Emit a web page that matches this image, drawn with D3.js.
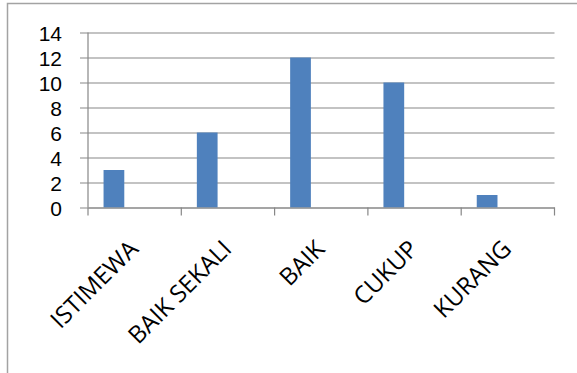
<!DOCTYPE html>
<html>
<head>
<meta charset="utf-8">
<script src="https://cdn.jsdelivr.net/npm/d3@7"></script>
<style>
html,body{margin:0;padding:0;background:#fff;overflow:hidden;}
svg{display:block;}
</style>
</head>
<body>
<svg id="chart" width="577" height="373"></svg>
<script>
const categories = ["ISTIMEWA", "BAIK SEKALI", "BAIK", "CUKUP", "KURANG"];
const values = [3, 6, 12, 10, 1];
const seriesSlots = ["s1", "s2", "s3"];
const yTicks = [0, 2, 4, 6, 8, 10, 12, 14];

const svg = d3.select("#chart");
const plotLeft = 88, plotRight = 554.5, plotTop = 32.5, plotBottom = 207.5;
const gridColor = "#878787";
const font = "'Open Sans', sans-serif";

// outer border
svg.append("rect").attr("x", 7.5).attr("y", 3.5).attr("width", 600).attr("height", 400)
  .attr("fill", "none").attr("stroke", "#a3a3a3").attr("stroke-width", 1.5);

const x = d3.scaleBand().domain(categories).range([plotLeft, plotRight]).paddingInner(0).paddingOuter(0);
const bw = x.bandwidth();
const inner = d3.scaleBand().domain(seriesSlots).range([bw * 0.75 / 4.5, bw - bw * 0.75 / 4.5]);
const y = d3.scaleLinear().domain([0, 14]).range([plotBottom, plotTop]);

// gridlines + y axis
const yAxis = d3.axisLeft(y).tickValues(yTicks).tickSize(-(plotRight - plotLeft)).tickSizeOuter(0).tickPadding(0).tickFormat(d3.format("d"));
const gy = svg.append("g").attr("transform", `translate(${plotLeft},0)`).call(yAxis);
gy.select(".domain").remove();
gy.selectAll(".tick line").attr("stroke", gridColor).attr("stroke-width", 1.2).attr("x1", -8);
gy.selectAll(".tick text").attr("x", -26).attr("dy", "0.36em")
  .attr("font-family", "'Liberation Sans', Arial, sans-serif").attr("font-size", 21).attr("fill", "#000");

// y axis line
svg.append("line").attr("x1", plotLeft).attr("x2", plotLeft).attr("y1", plotTop).attr("y2", plotBottom)
  .attr("stroke", gridColor).attr("stroke-width", 1.2);

// bars
svg.append("g").selectAll("rect").data(values).join("rect")
  .attr("x", (d, i) => x(categories[i]) + inner("s1"))
  .attr("width", inner.bandwidth())
  .attr("y", d => y(d))
  .attr("height", d => y(0) - y(d))
  .attr("fill", "#4F81BD");

// x axis
const gx = svg.append("g").attr("transform", `translate(0,${plotBottom})`)
  .call(d3.axisBottom(x).tickSize(0).tickSizeOuter(0).tickFormat(""));
gx.select(".domain").attr("stroke", gridColor).attr("stroke-width", 1.2);
gx.selectAll(".tick").remove();
const boundaries = categories.map(c => x(c)).concat([plotRight]);
svg.append("g").selectAll("line").data(boundaries).join("line")
  .attr("x1", d => d).attr("x2", d => d).attr("y1", plotBottom).attr("y2", plotBottom + 8)
  .attr("stroke", gridColor).attr("stroke-width", 1.2);

// x labels
svg.append("g").selectAll("text").data(categories).join("text")
  .attr("transform", d => `translate(${x(d) + bw / 2 + 5},${plotBottom + 43}) rotate(-45)`)
  .attr("text-anchor", "end")
  .attr("font-family", font).attr("font-size", 24).attr("fill", "#000")
  .text(d => d);
</script>
</body>
</html>
